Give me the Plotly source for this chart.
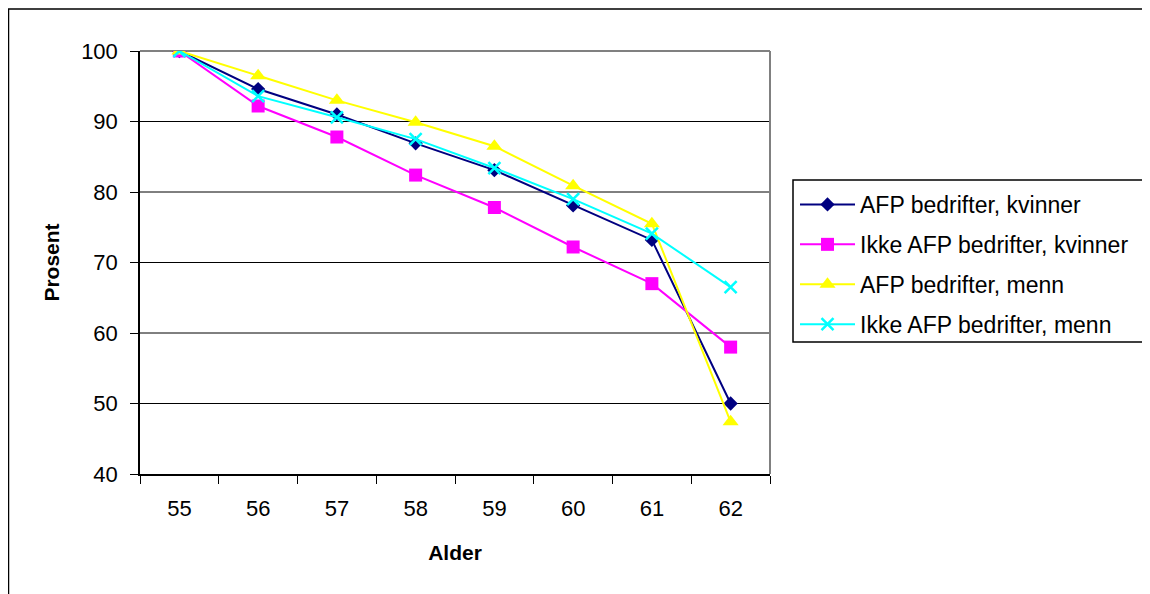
import plotly.graph_objects as go

ages = ["55", "56", "57", "58", "59", "60", "61", "62"]
afp_kvinner = [100, 94.6, 91.0, 86.9, 83.1, 78.1, 73.2, 50.0]
ikke_afp_kvinner = [100, 92.2, 87.8, 82.4, 77.8, 72.2, 67.0, 58.0]
afp_menn = [100, 96.5, 93.0, 89.9, 86.5, 80.9, 75.5, 47.4]
ikke_afp_menn = [100, 93.6, 90.6, 87.5, 83.4, 79.0, 74.1, 66.5]

series_names = ["AFP bedrifter, kvinner", "Ikke AFP bedrifter, kvinner",
                "AFP bedrifter, menn", "Ikke AFP bedrifter, menn"]
y_ticks = [40, 50, 60, 70, 80, 90, 100]

FONT = "Liberation Sans, Arial, sans-serif"

OFF = 8  # page body margin
W, H = 1150 - OFF, 594 - OFF
L, R, T, B = 140 - OFF, 770 - OFF, 51 - OFF, 474 - OFF
pw, ph = R - L, B - T

def px_x(p):
    return (p - OFF - L) / pw

def px_y(p):
    return (B - (p - OFF)) / ph

styles = [
    dict(color="#000080", symbol="diamond", size=11, lw=2),
    dict(color="#FF00FF", symbol="square", size=13, lw=2),
    dict(color="#FFFF00", symbol="triangle-up", size=14, lw=2),
    dict(color="#00FFFF", symbol="x-thin", size=12, lw=2),
]
data = [afp_kvinner, ikke_afp_kvinner, afp_menn, ikke_afp_menn]

fig = go.Figure()
for name, vals, st in zip(series_names, data, styles):
    marker = dict(symbol=st["symbol"], size=st["size"], color=st["color"])
    if st["symbol"] == "x-thin":
        marker["line"] = dict(color=st["color"], width=2.5)
    else:
        marker["line"] = dict(width=0)
    fig.add_trace(go.Scatter(
        x=ages, y=vals, name=name, mode="lines+markers",
        line=dict(color=st["color"], width=st["lw"]),
        marker=marker, legendgroup=name,
    ))

shapes = []
for v in y_ticks[1:-1]:
    shapes.append(dict(type="line", xref="paper", yref="y", x0=0, x1=1, y0=v, y1=v,
                       line=dict(color="black", width=1), layer="between"))
shapes.append(dict(type="line", xref="paper", yref="paper", x0=0, x1=1, y0=1, y1=1,
                   line=dict(color="#808080", width=2), layer="between"))
shapes.append(dict(type="line", xref="paper", yref="paper", x0=1, x1=1, y0=0, y1=1,
                   line=dict(color="#808080", width=2), layer="between"))
# outer chart frame
shapes.append(dict(type="rect", xref="paper", yref="paper",
                   x0=px_x(8.5), x1=px_x(1170), y0=px_y(640), y1=px_y(9),
                   line=dict(color="black", width=1.5), layer="below"))
# legend box
shapes.append(dict(type="rect", xref="paper", yref="paper",
                   x0=px_x(793), x1=px_x(1148), y0=px_y(342), y1=px_y(180),
                   line=dict(color="black", width=1.5), layer="above"))

fig.update_layout(
    width=W, height=H,
    margin=dict(l=L, r=W - R, t=T, b=H - B, pad=0),
    paper_bgcolor="white", plot_bgcolor="white",
    font=dict(family=FONT, size=21, color="black"),
    showlegend=True,
    legend=dict(
        x=px_x(795), y=px_y(183), xanchor="left", yanchor="top",
        bgcolor="rgba(0,0,0,0)", borderwidth=0,
        font=dict(family=FONT, size=23, color="black"),
        itemwidth=55, tracegroupgap=7, traceorder="grouped",
    ),
    shapes=shapes,
    xaxis=dict(
        type="category", range=[-0.5, 7.5],
        showgrid=False, showline=True, linecolor="black", linewidth=1.5,
        ticks="outside", ticklen=8, tickcolor="black", tickwidth=1,
        tickson="boundaries", ticklabelstandoff=14,
        tickfont=dict(family=FONT, size=22),
        title=dict(text="<b>Alder</b>", font=dict(family=FONT, size=21), standoff=25),
        zeroline=False,
    ),
    yaxis=dict(
        range=[40, 100], tickvals=y_ticks,
        showgrid=False, showline=True, linecolor="black", linewidth=1.5,
        ticks="outside", ticklen=8, tickcolor="black", tickwidth=1,
        ticklabelstandoff=8,
        tickfont=dict(family=FONT, size=22),
        title=dict(text="<b>Prosent</b>", font=dict(family=FONT, size=21), standoff=16),
        zeroline=False,
    ),
)

fig.write_html("out.html")
